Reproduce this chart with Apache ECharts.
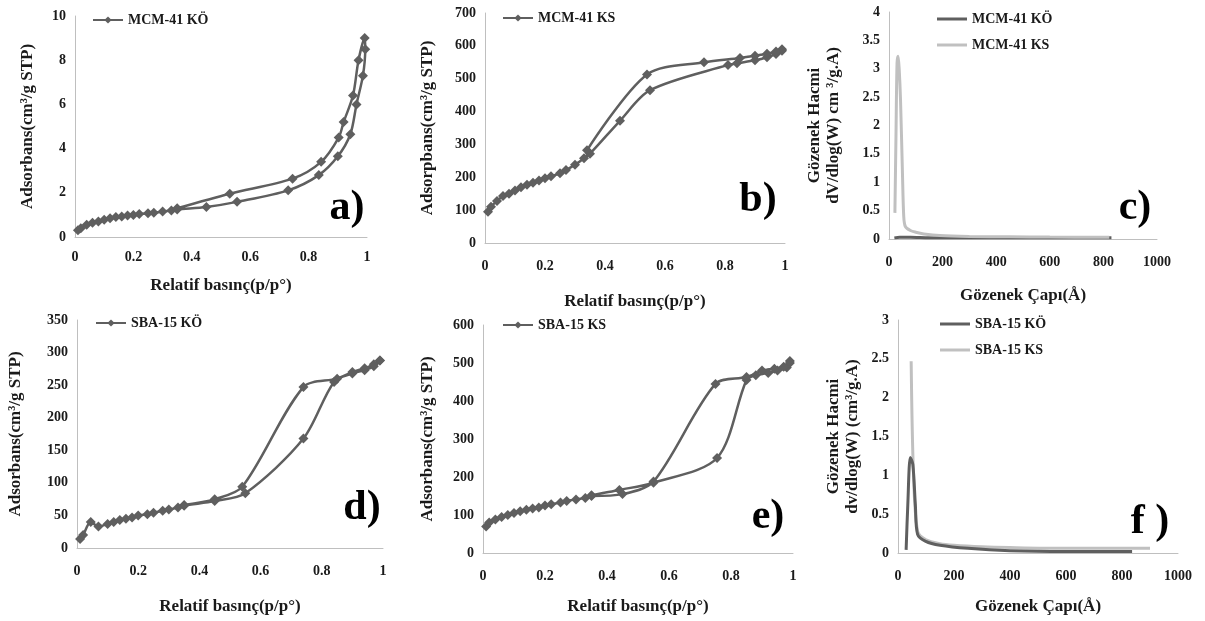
<!DOCTYPE html>
<html>
<head>
<meta charset="utf-8">
<script src="https://cdn.jsdelivr.net/npm/echarts@6/dist/echarts.min.js"></script>
<style>
  html, body { margin: 0; padding: 0; background: #fff; }
  #chart { width: 1205px; height: 621px; }
</style>
</head>
<body>
<div id="chart"></div>
<script>
// a) MCM-41 KÖ isotherm
var aAdsP = [0.01, 0.02, 0.04, 0.06, 0.08, 0.1, 0.12, 0.14, 0.16, 0.18, 0.2, 0.22, 0.25, 0.27, 0.3, 0.33, 0.35, 0.45, 0.555, 0.73, 0.835, 0.9, 0.943, 0.964, 0.986, 0.994];
var aAdsV = [0.3, 0.4, 0.55, 0.65, 0.7, 0.78, 0.85, 0.9, 0.93, 0.97, 1.0, 1.04, 1.08, 1.1, 1.15, 1.2, 1.25, 1.36, 1.59, 2.11, 2.8, 3.65, 4.65, 6.0, 7.3, 8.5];
var aDesP = [0.992, 0.971, 0.952, 0.92, 0.903, 0.843, 0.745, 0.53, 0.35];
var aDesV = [9.0, 8.0, 6.4, 5.2, 4.5, 3.4, 2.64, 1.96, 1.3];

// b) MCM-41 KS isotherm
var bAdsP = [0.01, 0.02, 0.04, 0.06, 0.08, 0.1, 0.12, 0.14, 0.16, 0.18, 0.2, 0.22, 0.25, 0.27, 0.3, 0.33, 0.35, 0.45, 0.55, 0.81, 0.84, 0.9, 0.94, 0.97, 0.99];
var bAdsV = [95, 110, 128, 143, 150, 160, 170, 177, 183, 190, 197, 203, 212, 222, 238, 258, 272, 372, 465, 542, 547, 556, 565, 575, 585];
var bDesP = [0.99, 0.97, 0.94, 0.9, 0.85, 0.73, 0.54, 0.34];
var bDesV = [590, 583, 576, 570, 563, 550, 513, 282];

// c) pore size distribution MCM-41
var cKoD = [20, 40, 80, 150, 250, 400, 600, 830];
var cKoV = [0.02, 0.03, 0.03, 0.02, 0.02, 0.02, 0.02, 0.02];
var cKsD = [22, 26, 30, 34, 38, 43, 50, 55, 61, 80, 100, 130, 190, 300, 450, 600, 822];
var cKsV = [0.46, 1.8, 3.1, 3.22, 3.0, 2.45, 1.2, 0.4, 0.22, 0.15, 0.12, 0.09, 0.06, 0.045, 0.04, 0.035, 0.03];

// d) SBA-15 KÖ isotherm
var dAdsP = [0.01, 0.02, 0.045, 0.07, 0.1, 0.12, 0.14, 0.16, 0.18, 0.2, 0.23, 0.25, 0.28, 0.3, 0.33, 0.35, 0.45, 0.55, 0.74, 0.84, 0.9, 0.94, 0.97, 0.99];
var dAdsV = [14, 20, 40, 33, 37, 40, 43, 45, 47, 50, 52, 54, 57, 59, 62, 65, 72, 84, 168, 255, 268, 273, 279, 288];
var dDesP = [0.99, 0.97, 0.94, 0.9, 0.85, 0.74, 0.54, 0.45, 0.35];
var dDesV = [288, 282, 276, 270, 260, 247, 94, 75, 66];

// e) SBA-15 KS isotherm
var eAdsP = [0.01, 0.02, 0.04, 0.06, 0.08, 0.1, 0.12, 0.14, 0.16, 0.18, 0.2, 0.22, 0.25, 0.27, 0.3, 0.33, 0.35, 0.44, 0.55, 0.755, 0.85, 0.88, 0.92, 0.95, 0.98, 0.99];
var eAdsV = [70, 80, 88, 95, 100, 105, 110, 114, 117, 120, 125, 128, 133, 137, 141, 145, 152, 166, 185, 250, 455, 468, 474, 480, 488, 500];
var eDesP = [0.99, 0.97, 0.94, 0.9, 0.85, 0.75, 0.55, 0.45, 0.35];
var eDesV = [505, 490, 485, 480, 463, 445, 188, 155, 150];

// f) pore size distribution SBA-15
var fKoD = [29, 35, 44, 53, 62, 70, 99, 150, 250, 400, 600, 836];
var fKoV = [0.04, 0.62, 1.23, 1.14, 0.62, 0.24, 0.15, 0.1, 0.06, 0.03, 0.02, 0.02];
var fKsD = [47, 55, 70, 100, 150, 200, 300, 400, 600, 900];
var fKsV = [2.47, 1.05, 0.28, 0.17, 0.12, 0.1, 0.08, 0.07, 0.06, 0.06];

var isoNames = ['MCM-41 KÖ', 'MCM-41 KS', 'SBA-15 KÖ', 'SBA-15 KS'];
// prefix keeps them apart from the isotherm series, stripped in the legend
var psdNames = ['c:MCM-41 KÖ', 'c:MCM-41 KS', 'f:SBA-15 KÖ', 'f:SBA-15 KS'];

var font = 'Liberation Serif';
var dark = '#5f5f5f';
var light = '#c0c0c0';
var axisGray = '#bfbfbf';
var textColor = '#1a1a1a';

function pairs(xs, ys) {
  return xs.map(function (x, i) { return [x, ys[i]]; });
}

function xAx(idx, max, interval, name, gap, margin) {
  return {
    type: 'value', gridIndex: idx, min: 0, max: max, interval: interval,
    name: name, nameLocation: 'middle', nameGap: gap,
    nameTextStyle: { fontFamily: font, fontWeight: 'bold', fontSize: 17, color: textColor },
    axisLine: { lineStyle: { color: axisGray, width: 1 } },
    axisTick: { show: false },
    splitLine: { show: false },
    axisLabel: {
      fontFamily: font, fontWeight: 'bold', fontSize: 14, color: textColor, margin: margin,
      formatter: function (v) { return String(v); }
    }
  };
}

function yAx(idx, max, interval, name, gap) {
  return {
    type: 'value', gridIndex: idx, min: 0, max: max, interval: interval,
    name: name, nameLocation: 'middle', nameGap: gap,
    nameTextStyle: { fontFamily: font, fontWeight: 'bold', fontSize: 17, color: textColor, lineHeight: 19 },
    axisLine: { show: true, lineStyle: { color: axisGray, width: 1 } },
    axisTick: { show: false },
    splitLine: { show: false },
    axisLabel: { fontFamily: font, fontWeight: 'bold', fontSize: 14, color: textColor, margin: 9 }
  };
}

function iso(name, idx, adsP, adsV, desP, desV) {
  return {
    name: name, type: 'line', xAxisIndex: idx, yAxisIndex: idx,
    data: pairs(adsP, adsV).concat(pairs(desP, desV)),
    smooth: 0.3, symbol: 'diamond', symbolSize: 10,
    itemStyle: { color: dark }, lineStyle: { color: dark, width: 2.5 }
  };
}

function psd(name, idx, xs, ys, color, z) {
  return {
    name: name, type: 'line', xAxisIndex: idx, yAxisIndex: idx,
    data: pairs(xs, ys), smooth: 0.3, symbol: 'none', z: z,
    itemStyle: { color: color }, lineStyle: { color: color, width: 3 }
  };
}

function leg(names, left, top, lineOnly) {
  return {
    data: names.map(function (n) { return lineOnly ? { name: n, icon: 'rect' } : n; }),
    left: left, top: top, orient: 'vertical', padding: 0,
    itemWidth: 30, itemHeight: lineOnly ? 3 : 9, itemGap: lineOnly ? 12 : 13,
    textStyle: { fontFamily: font, fontWeight: 'bold', fontSize: 14, color: textColor },
    formatter: function (n) { return n.indexOf(':') === 1 ? n.slice(2) : n; }
  };
}

function letter(t, x, y) {
  return {
    type: 'text', x: x, y: y,
    style: { text: t, font: 'bold 42px "Liberation Serif"', fill: '#000', align: 'center', verticalAlign: 'middle' }
  };
}

var chart = echarts.init(document.getElementById('chart'));
var option = {
  animation: false,
  grid: [
    { left: 75, top: 16, width: 292, height: 221 },
    { left: 485, top: 13, width: 300, height: 230 },
    { left: 889, top: 12, width: 268, height: 227 },
    { left: 77, top: 320, width: 306, height: 228 },
    { left: 483, top: 325, width: 310, height: 228 },
    { left: 898, top: 320, width: 280, height: 233 }
  ],
  xAxis: [
    xAx(0, 1, 0.2, 'Relatif basınç(p/p°)', 40, 13),
    xAx(1, 1, 0.2, 'Relatif basınç(p/p°)', 50, 16),
    xAx(2, 1000, 200, 'Gözenek Çapı(Å)', 48, 16),
    xAx(3, 1, 0.2, 'Relatif basınç(p/p°)', 50, 16),
    xAx(4, 1, 0.2, 'Relatif basınç(p/p°)', 45, 16),
    xAx(5, 1000, 200, 'Gözenek Çapı(Å)', 45, 16)
  ],
  yAxis: [
    yAx(0, 10, 2, 'Adsorbans(cm³/g STP)', 38),
    yAx(1, 700, 100, 'Adsorpbans(cm³/g STP)', 48),
    yAx(2, 4, 0.5, 'Gözenek Hacmi\ndV/dlog(W) cm ³/g.A)', 46),
    yAx(3, 350, 50, 'Adsorbans(cm³/g STP)', 52),
    yAx(4, 600, 100, 'Adsorbans(cm³/g STP)', 46),
    yAx(5, 3, 0.5, 'Gözenek Hacmi\ndv/dlog(W) (cm³/g.A)', 36)
  ],
  legend: [
    leg([isoNames[0]], 92, 13),
    leg([isoNames[1]], 502, 11),
    leg([psdNames[0], psdNames[1]], 937, 12, true),
    leg([isoNames[2]], 95, 316),
    leg([isoNames[3]], 502, 318),
    leg([psdNames[2], psdNames[3]], 940, 317, true)
  ],
  series: [
    iso(isoNames[0], 0, aAdsP, aAdsV, aDesP, aDesV),
    iso(isoNames[1], 1, bAdsP, bAdsV, bDesP, bDesV),
    psd(psdNames[0], 2, cKoD, cKoV, dark, 2),
    psd(psdNames[1], 2, cKsD, cKsV, light, 3),
    iso(isoNames[2], 3, dAdsP, dAdsV, dDesP, dDesV),
    iso(isoNames[3], 4, eAdsP, eAdsV, eDesP, eDesV),
    psd(psdNames[2], 5, fKoD, fKoV, dark, 3),
    psd(psdNames[3], 5, fKsD, fKsV, light, 2)
  ],
  graphic: [
    letter('a)', 347, 208),
    letter('b)', 758, 200),
    letter('c)', 1135, 208),
    letter('d)', 362, 508),
    letter('e)', 768, 517),
    letter('f )', 1150, 522)
  ]
};
option && chart.setOption(option);
</script>
</body>
</html>
